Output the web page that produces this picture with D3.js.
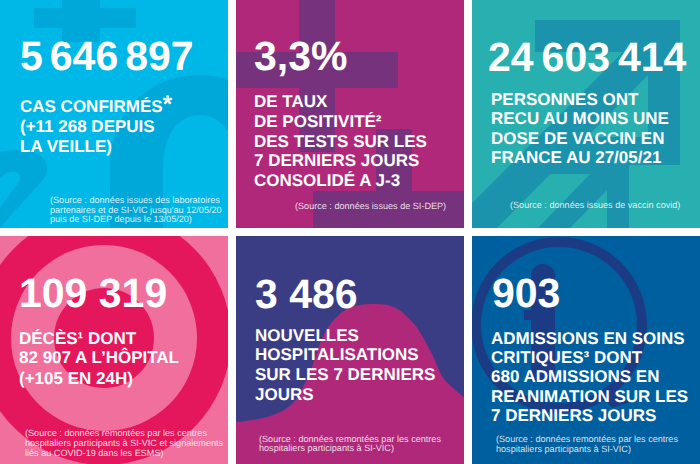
<!DOCTYPE html>
<html>
<head>
<meta charset="utf-8">
<script src="https://cdn.jsdelivr.net/npm/d3@7"></script>
<style>
    html, body { margin: 0; padding: 0; background: #fff; }
    svg { display: block; }
    text { font-family: "Liberation Sans", Arial, sans-serif; fill: #fff; text-rendering: geometricPrecision; }
    .headline, .label { font-weight: bold; }
    .source { font-size: 9.1px; fill-opacity: .85; }
</style>
</head>
<body>
<svg id="chart" width="700" height="464"></svg>
<script>
// The figures of each tile
var headlines = ["5 646 897", "3,3%", "24 603 414", "109 319", "3 486", "903"];

var labels = [
    ["CAS CONFIRMÉS*", "(+11 268 DEPUIS", "LA VEILLE)"],
    ["DE TAUX", "DE POSITIVITÉ²", "DES TESTS SUR LES", "7 DERNIERS JOURS", "CONSOLIDÉ A J-3"],
    ["PERSONNES ONT", "RECU AU MOINS UNE", "DOSE DE VACCIN EN", "FRANCE AU 27/05/21"],
    ["DÉCÈS¹ DONT", "82 907 A L’HÔPITAL", "(+105 EN 24H)"],
    ["NOUVELLES", "HOSPITALISATIONS", "SUR LES 7 DERNIERS", "JOURS"],
    ["ADMISSIONS EN SOINS", "CRITIQUES³ DONT", "680 ADMISSIONS EN", "REANIMATION SUR LES", "7 DERNIERS JOURS"]
];

var sources = [
    ["(Source : données issues des laboratoires", "partenaires et de SI-VIC jusqu'au 12/05/20", "puis de SI-DEP depuis le 13/05/20)"],
    ["(Source : données issues de SI-DEP)"],
    ["(Source : données issues de vaccin covid)"],
    ["(Source : données remontées par les centres", "hospitaliers participants à SI-VIC et signalements", "liés au COVID-19 dans les ESMS)"],
    ["(Source : données remontées par les centres", "hospitaliers participants à SI-VIC)"],
    ["(Source : données remontées par les centres", "hospitaliers participants à SI-VIC)"]
];

var backgrounds = ["#00b8e7", "#b0287a", "#28afb0", "#f06f9c", "#3a3d84", "#005f9e"];
var shades = ["#00a7d9", "#77327e", "#1b93ad", "#e5175c", "#b0287a", "#1c3b85"];

// Where the text goes, in page pixels: headline x / baseline, word spacing, size, then the text blocks
var layout = [
    {hx: 20, hy: 70, ws: -4.4, hs: 41, lx: 20, ly: [112, 132, 152], sx: 50, sy: [203, 213, 222]},
    {hx: 254, hy: 70, ws: 0, hs: 41, lx: 254, ly: [107, 127, 147, 166, 186], sx: 295, sy: [209]},
    {hx: 488, hy: 71, ws: -3.4, hs: 41, lx: 491, ly: [105, 124, 144, 163], sx: 510, sy: [208]},
    {hx: 19, hy: 307, ws: 0, hs: 41, lx: 19, ly: [344, 363, 384], sx: 25, sy: [436, 446, 456]},
    {hx: 255, hy: 308, ws: 0, hs: 41, lx: 255, ly: [341, 360, 380, 400], sx: 259, sy: [442, 451]},
    {hx: 492, hy: 307, ws: 0, hs: 41, lx: 491, ly: [344, 363, 382, 402, 421], sx: 496, sy: [442, 452]}
];

var side = 228;
var columns = d3.scaleOrdinal().domain([0, 1, 2]).range([0, 236, 472]);
var rows = d3.scaleOrdinal().domain([0, 1]).range([0, 236]);

var svg = d3.select("#chart");
var defs = svg.append("defs");

var tiles = svg.selectAll(".tile")
    .data(headlines)
    .enter().append("g")
    .attr("class", "tile");

// Every tile clips its own background artwork
tiles.each(function (d, i) {
    var x = columns(i % 3), y = rows(Math.floor(i / 3));
    defs.append("clipPath").attr("id", "clip" + i)
        .append("rect").attr("x", x).attr("y", y).attr("width", side).attr("height", side);
    d3.select(this).append("rect")
        .attr("x", x).attr("y", y).attr("width", side).attr("height", side)
        .attr("fill", backgrounds[i]);
});

var art = tiles.append("g")
    .attr("class", "art")
    .attr("clip-path", function (d, i) { return "url(#clip" + i + ")"; })
    .attr("fill", function (d, i) { return shades[i]; });

// Tile 1: a plus, a "2" and a "0"
var a0 = d3.select(art.nodes()[0]);
a0.append("path").attr("d", "M34,8H62V0H100V8H136V28H100V42H62V28H34Z");
a0.append("path").attr("fill-rule", "evenodd")
    .attr("d", "M110,228V170C110,110 150,75 200,75C250,75 290,110 290,170V228ZM163,228V170C163,135 178,115 200,115C222,115 237,135 237,170V228Z");
a0.append("path")
    .attr("d", "M0,152C8,150 16,150 23,150C37,151 47,158 47,168C47,174 45,177 43,180L13,213L0,228V207L13,190C18,184 21,180 20,176C18,170 8,170 0,178Z");

// Tile 2: two crosses
var a1 = d3.select(art.nodes()[1]);
a1.append("path").attr("d", "M299,0H335V52H398V88H335V152H299V88H236V52H299Z");
a1.append("path").attr("d", "M376,129H412V191H464V228H313V191H376Z");

// Tile 3: two arrows
var a2 = d3.select(art.nodes()[2]);
a2.append("path").attr("d", "M535,20H680V165H648V75L497,228H472V203L623,52H535Z");
a2.append("path").attr("d", "M585,137H648V165H629V228H607V190L570,228H538L590,174H548Z");

// Tile 4: a target
var a3 = d3.select(art.nodes()[3]);
[[127, shades[3]], [93, backgrounds[3]], [50, shades[3]]].forEach(function (ring) {
    a3.append("circle").attr("cx", 104).attr("cy", 338).attr("r", ring[0]).attr("fill", ring[1]);
});

// Tile 5: the epidemic wave, traced through the crest
var waveOutline = [[236, 422], [267, 417], [291, 405], [307, 379], [327, 329], [347, 309], [371, 304],
    [394, 307], [414, 324], [431, 352], [444, 379], [464, 397]];
var waveLine = d3.line().curve(d3.curveCatmullRom);
var a4 = d3.select(art.nodes()[4]);
a4.append("path").attr("d", waveLine(waveOutline) + "V464H236Z");

// Tile 6: an "i" inside a speech ring
var a5 = d3.select(art.nodes()[5]);
a5.append("circle").attr("cx", 559).attr("cy", 325).attr("r", 83)
    .attr("fill", "none").attr("stroke", shades[5]).attr("stroke-width", 10);
a5.append("path").attr("d", "M531,276A12,12 0 0 1 555,276V382H531V320H524V310H531Z");
a5.append("path").attr("d", "M612,392L630,402L612,408L604,398Z");

// Text on top of the artwork
tiles.append("text")
    .attr("class", "headline")
    .attr("x", function (d, i) { return layout[i].hx; })
    .attr("y", function (d, i) { return layout[i].hy; })
    .style("font-size", function (d, i) { return layout[i].hs + "px"; })
    .style("word-spacing", function (d, i) { return layout[i].ws + "px"; })
    .text(function (d) { return d; });

tiles.each(function (d, i) {
    var tile = d3.select(this);

    labels[i].forEach(function (line, n) {
        var text = tile.append("text")
            .attr("class", "label")
            .attr("x", layout[i].lx)
            .attr("y", layout[i].ly[n])
            .style("font-size", "17px");
        // The asterisk of the first tile is drawn much larger than the line
        if (line.slice(-1) == "*") {
            text.text(line.slice(0, -1));
            text.append("tspan").style("font-size", "24px").text("*");
        } else {
            text.text(line);
        }
    });

    tile.selectAll(".source")
        .data(sources[i])
        .enter().append("text")
        .attr("class", "source")
        .attr("x", layout[i].sx)
        .attr("y", function (s, n) { return layout[i].sy[n]; })
        .text(function (s) { return s; });
});
</script>
</body>
</html>
